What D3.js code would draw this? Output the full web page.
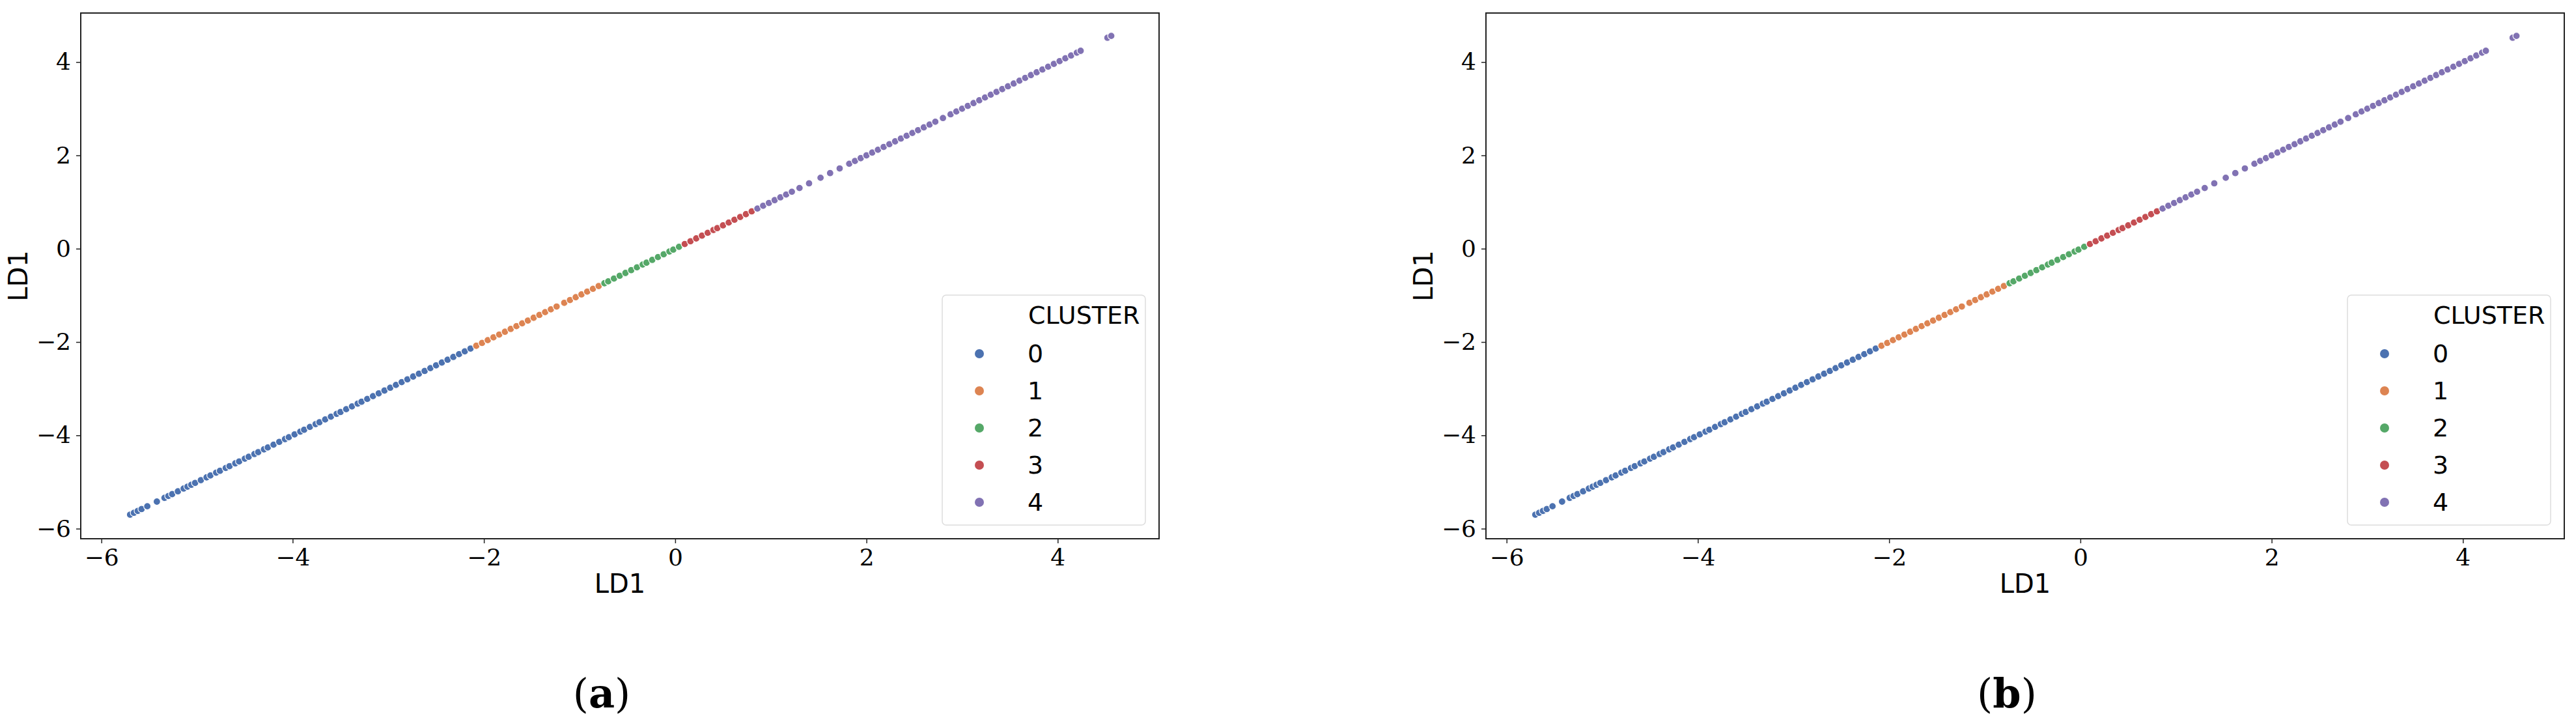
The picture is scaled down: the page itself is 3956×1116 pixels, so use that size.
<!DOCTYPE html>
<html>
<head>
<meta charset="utf-8">
<script src="https://cdn.jsdelivr.net/npm/d3@7"></script>
<style>
  body { margin: 0; background: #fff; }
  .tick text { font-family: "DejaVu Serif", serif; }
</style>
</head>
<body>
<svg id="chart" width="3956" height="1116"></svg>
<script>
// LD1 values per cluster (points lie on LD1 vs LD1)
var cluster0 = [-5.70, -5.66, -5.62, -5.58, -5.52, -5.42, -5.34, -5.30, -5.26, -5.20, -5.14, -5.10, -5.06, -5.02,
  -4.96, -4.90, -4.86, -4.80, -4.76, -4.70, -4.66, -4.60, -4.56, -4.50, -4.46, -4.40, -4.36, -4.30, -4.26, -4.20,
  -4.14, -4.08, -4.04, -3.98, -3.92, -3.88, -3.82, -3.76, -3.72, -3.66, -3.60, -3.54, -3.50, -3.44, -3.38, -3.32,
  -3.28, -3.22, -3.16, -3.10, -3.04, -2.98, -2.92, -2.86, -2.80, -2.74, -2.68, -2.62, -2.56, -2.50, -2.44, -2.38,
  -2.32, -2.26, -2.20, -2.14];
var cluster1 = [-2.08, -2.02, -1.96, -1.90, -1.84, -1.78, -1.72, -1.66, -1.60, -1.54, -1.48, -1.42, -1.36, -1.30,
  -1.24, -1.16, -1.10, -1.04, -0.98, -0.92, -0.86, -0.80];
var cluster2 = [-0.74, -0.70, -0.64, -0.58, -0.52, -0.46, -0.40, -0.34, -0.30, -0.24, -0.18, -0.12, -0.06, -0.02, 0.04];
var cluster3 = [0.10, 0.16, 0.22, 0.28, 0.34, 0.40, 0.44, 0.50, 0.56, 0.62, 0.68, 0.74, 0.80];
var cluster4 = [0.86, 0.92, 0.98, 1.04, 1.10, 1.16, 1.22, 1.30, 1.40, 1.52, 1.62, 1.72, 1.82, 1.88, 1.94, 2.00,
  2.06, 2.12, 2.18, 2.24, 2.30, 2.36, 2.42, 2.48, 2.54, 2.60, 2.66, 2.72, 2.80, 2.88, 2.94, 3.00, 3.06, 3.12, 3.18,
  3.24, 3.30, 3.36, 3.42, 3.48, 3.54, 3.60, 3.66, 3.72, 3.78, 3.84, 3.90, 3.96, 4.02, 4.08, 4.14, 4.20, 4.24,
  4.52, 4.56];

var clusterNames = ["0", "1", "2", "3", "4"];
var clusterColors = ["#4c72b0", "#dd8452", "#55a868", "#c44e52", "#8172b3"];
var xTicks = [-6, -4, -2, 0, 2, 4];
var yTicks = [-6, -4, -2, 0, 2, 4];
var panels = [
  { label: "a", left: 124 },
  { label: "b", left: 2282 }
];

var svg = d3.select("#chart");
var allClusters = [cluster0, cluster1, cluster2, cluster3, cluster4];
var points = [];
allClusters.forEach(function(vals, ci) {
  vals.forEach(function(v) { points.push({ x: v, y: v, c: ci }); });
});

var plotTop = 20, plotBottom = 827, plotWidth = 1656;

function fmt(d) { return d < 0 ? "\u2212" + Math.abs(d) : String(d); }

panels.forEach(function(p) {
  var g = svg.append("g").attr("transform", "translate(" + p.left + ",0)");
  var x = d3.scaleLinear().domain([-6.216, 5.06]).range([0, plotWidth]);
  var y = d3.scaleLinear().domain([-6.216, 5.05]).range([plotBottom, plotTop]);

  var xa = g.append("g").attr("transform", "translate(0," + plotBottom + ")")
    .call(d3.axisBottom(x).tickValues(xTicks).tickFormat(fmt).tickSize(7).tickPadding(8));
  var ya = g.append("g")
    .call(d3.axisLeft(y).tickValues(yTicks).tickFormat(fmt).tickSize(7).tickPadding(8));
  [xa, ya].forEach(function(a) {
    a.select(".domain").remove();
    a.selectAll("text").attr("font-size", 36).attr("fill", "#000");
    a.selectAll("line").attr("stroke", "#222").attr("stroke-width", 1.5);
  });

  g.append("rect").attr("x", 0).attr("y", plotTop).attr("width", plotWidth).attr("height", plotBottom - plotTop)
    .attr("fill", "none").attr("stroke", "#222").attr("stroke-width", 2);

  g.append("g").selectAll("circle").data(points).enter().append("circle")
    .attr("cx", function(d) { return x(d.x); })
    .attr("cy", function(d) { return y(d.y); })
    .attr("r", 5.5)
    .attr("fill", function(d) { return clusterColors[d.c]; })
    .attr("stroke", "#fff").attr("stroke-width", 1.2);

  g.append("text").attr("x", plotWidth / 2).attr("y", 910).attr("text-anchor", "middle")
    .attr("font-family", "DejaVu Sans, sans-serif").attr("font-size", 40).text("LD1");
  g.append("text").attr("transform", "translate(-82," + ((plotTop + plotBottom) / 2) + ") rotate(-90)")
    .attr("text-anchor", "middle")
    .attr("font-family", "DejaVu Sans, sans-serif").attr("font-size", 40).text("LD1");

  // legend
  var lg = g.append("g").attr("transform", "translate(1323,453)");
  lg.append("rect").attr("width", 312).attr("height", 353).attr("rx", 6)
    .attr("fill", "#fff").attr("fill-opacity", 0.8).attr("stroke", "#ddd").attr("stroke-width", 1.5);
  lg.append("text").attr("x", 132).attr("y", 44)
    .attr("font-family", "DejaVu Sans, sans-serif").attr("font-size", 38).text("CLUSTER");
  clusterNames.forEach(function(n, i) {
    lg.append("circle").attr("cx", 57).attr("cy", 90 + i * 57).attr("r", 7)
      .attr("fill", clusterColors[i]);
    lg.append("text").attr("x", 131).attr("y", 90 + i * 57 + 13)
      .attr("font-family", "DejaVu Sans, sans-serif").attr("font-size", 38).text(n);
  });

  var cap = g.append("text").attr("x", 800).attr("y", 1086).attr("text-anchor", "middle")
    .attr("font-family", "DejaVu Serif, serif").attr("font-size", 62);
  cap.append("tspan").text("(");
  cap.append("tspan").attr("font-weight", "bold").text(p.label);
  cap.append("tspan").text(")");
});
</script>
</body>
</html>
